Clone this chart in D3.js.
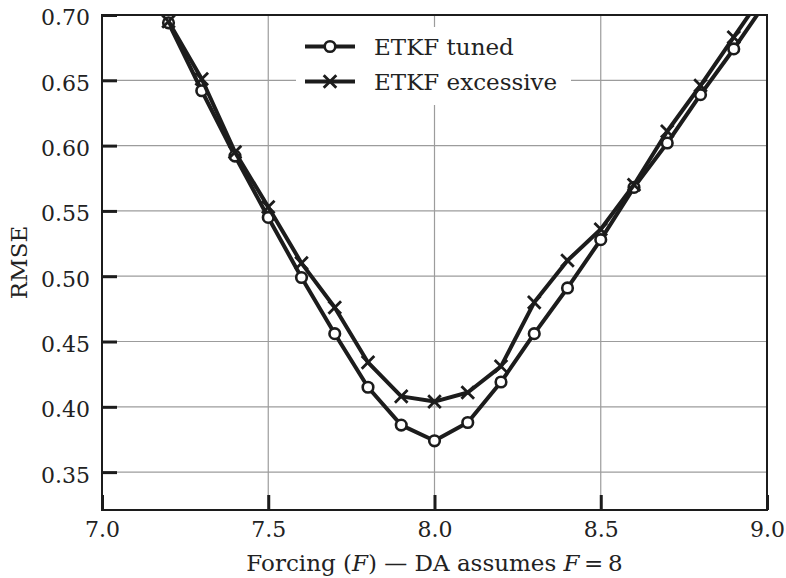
<!DOCTYPE html>
<html>
<head>
<meta charset="utf-8">
<script src="https://cdn.jsdelivr.net/npm/d3@7"></script>
<style>
  body { margin: 0; background: #fff; }
  text { font-family: "DejaVu Serif", serif; fill: #222; }
</style>
</head>
<body>
<svg id="chart" width="786" height="578"></svg>
<script>
// RMSE of the ensemble filter against the true forcing used in the model
const forcing   = [7.2, 7.3, 7.4, 7.5, 7.6, 7.7, 7.8, 7.9, 8.0, 8.1, 8.2, 8.3, 8.4, 8.5, 8.6, 8.7, 8.8, 8.9, 9.0];
const tuned     = [0.694, 0.642, 0.592, 0.545, 0.499, 0.456, 0.415, 0.386, 0.374, 0.388, 0.419, 0.456, 0.491, 0.528, 0.568, 0.602, 0.639, 0.674, 0.711];
const excessive = [0.695, 0.651, 0.595, 0.553, 0.510, 0.476, 0.434, 0.408, 0.404, 0.411, 0.431, 0.480, 0.512, 0.536, 0.570, 0.611, 0.646, 0.683, 0.720];
const seriesNames = ["ETKF tuned", "ETKF excessive"];
const xTicks = [7.0, 7.5, 8.0, 8.5, 9.0];
const yTicks = [0.35, 0.40, 0.45, 0.50, 0.55, 0.60, 0.65, 0.70];

const plot = { left: 102, right: 767, top: 15, bottom: 510 };
const ink = "#1c1c1c";
const tickFont = 22, labelFont = 23;

const svg = d3.select("#chart");
const x = d3.scaleLinear().domain([7.0, 9.0]).range([plot.left, plot.right]);
const y = d3.scaleLinear().domain([0.321, 0.70]).range([plot.bottom, plot.top]);

svg.append("defs").append("clipPath").attr("id", "plotClip")
  .append("rect")
  .attr("x", plot.left).attr("y", plot.top)
  .attr("width", plot.right - plot.left).attr("height", plot.bottom - plot.top);

// grid
const grid = svg.append("g").attr("stroke", "#9c9c9c").attr("stroke-width", 1.2);
grid.selectAll("line.gx").data(xTicks).join("line").attr("class", "gx")
  .attr("x1", d => x(d)).attr("x2", d => x(d))
  .attr("y1", plot.top).attr("y2", plot.bottom);
grid.selectAll("line.gy").data(yTicks).join("line").attr("class", "gy")
  .attr("y1", d => y(d)).attr("y2", d => y(d))
  .attr("x1", plot.left).attr("x2", plot.right);

// axes with inward ticks
const fmt2 = d3.format(".2f"), fmt1 = d3.format(".1f");
const yAxis = svg.append("g").attr("transform", `translate(${plot.left},0)`)
  .call(d3.axisLeft(y).tickValues(yTicks).tickFormat(fmt2).tickSize(-15).tickPadding(12));
const xAxis = svg.append("g").attr("transform", `translate(0,${plot.bottom})`)
  .call(d3.axisBottom(x).tickValues(xTicks).tickFormat(fmt1).tickSize(-15).tickPadding(11.5));
[xAxis, yAxis].forEach(g => {
  g.select(".domain").remove();
  g.selectAll(".tick line").attr("stroke", ink).attr("stroke-width", 3);
  g.selectAll(".tick text").attr("font-size", tickFont).attr("font-family", "DejaVu Serif").attr("fill", "#222");
});
yAxis.selectAll(".tick text").attr("dy", "0.45em");

// frame
svg.append("rect")
  .attr("x", plot.left).attr("y", plot.top)
  .attr("width", plot.right - plot.left).attr("height", plot.bottom - plot.top)
  .attr("fill", "none").attr("stroke", ink).attr("stroke-width", 2);

// series
const series = [
  { name: seriesNames[0], values: tuned, marker: "circle" },
  { name: seriesNames[1], values: excessive, marker: "cross" }
];
const line = d3.line().x(d => x(d[0])).y(d => y(d[1]));
const crossPath = "M-6.3,-6.3L6.3,6.3M-6.3,6.3L6.3,-6.3";

const plotArea = svg.append("g").attr("clip-path", "url(#plotClip)");
function drawMarker(g, kind) {
  if (kind === "circle") {
    g.append("circle").attr("r", 5.3).attr("fill", "#fff")
      .attr("stroke", ink).attr("stroke-width", 2.6);
  } else {
    g.append("path").attr("d", crossPath).attr("fill", "none")
      .attr("stroke", ink).attr("stroke-width", 2.8);
  }
}
series.forEach(s => {
  const pts = forcing.map((f, i) => [f, s.values[i]]);
  const g = plotArea.append("g");
  g.append("path").datum(pts).attr("d", line)
    .attr("fill", "none").attr("stroke", ink).attr("stroke-width", 4)
    .attr("stroke-linejoin", "round");
  g.selectAll("g.m").data(pts).join("g").attr("class", "m")
    .attr("transform", d => `translate(${x(d[0])},${y(d[1])})`)
    .each(function () { drawMarker(d3.select(this), s.marker); });
});

// legend
const legend = svg.append("g");
legend.append("rect").attr("x", 296).attr("y", 27).attr("width", 275).attr("height", 78)
  .attr("fill", "#fff");
series.forEach((s, i) => {
  const ly = 46.5 + i * 35;
  legend.append("line").attr("x1", 305).attr("x2", 355).attr("y1", ly).attr("y2", ly)
    .attr("stroke", ink).attr("stroke-width", 4);
  const mg = legend.append("g").attr("transform", `translate(330,${ly})`);
  drawMarker(mg, s.marker);
  legend.append("text").attr("x", 374).attr("y", ly + 8.5)
    .attr("font-size", labelFont).text(s.name);
});

// axis titles
svg.append("text")
  .attr("transform", `translate(27,${(plot.top + plot.bottom) / 2}) rotate(-90)`)
  .attr("text-anchor", "middle").attr("font-size", labelFont).text("RMSE");

const xt = svg.append("text")
  .attr("x", (plot.left + plot.right) / 2).attr("y", 571)
  .attr("text-anchor", "middle").attr("font-size", labelFont);
xt.append("tspan").text("Forcing (");
xt.append("tspan").attr("font-style", "italic").text("F");
xt.append("tspan").text(") — DA assumes ");
xt.append("tspan").attr("font-style", "italic").text("F");
xt.append("tspan").text("\u2009=\u20098");
</script>
</body>
</html>
